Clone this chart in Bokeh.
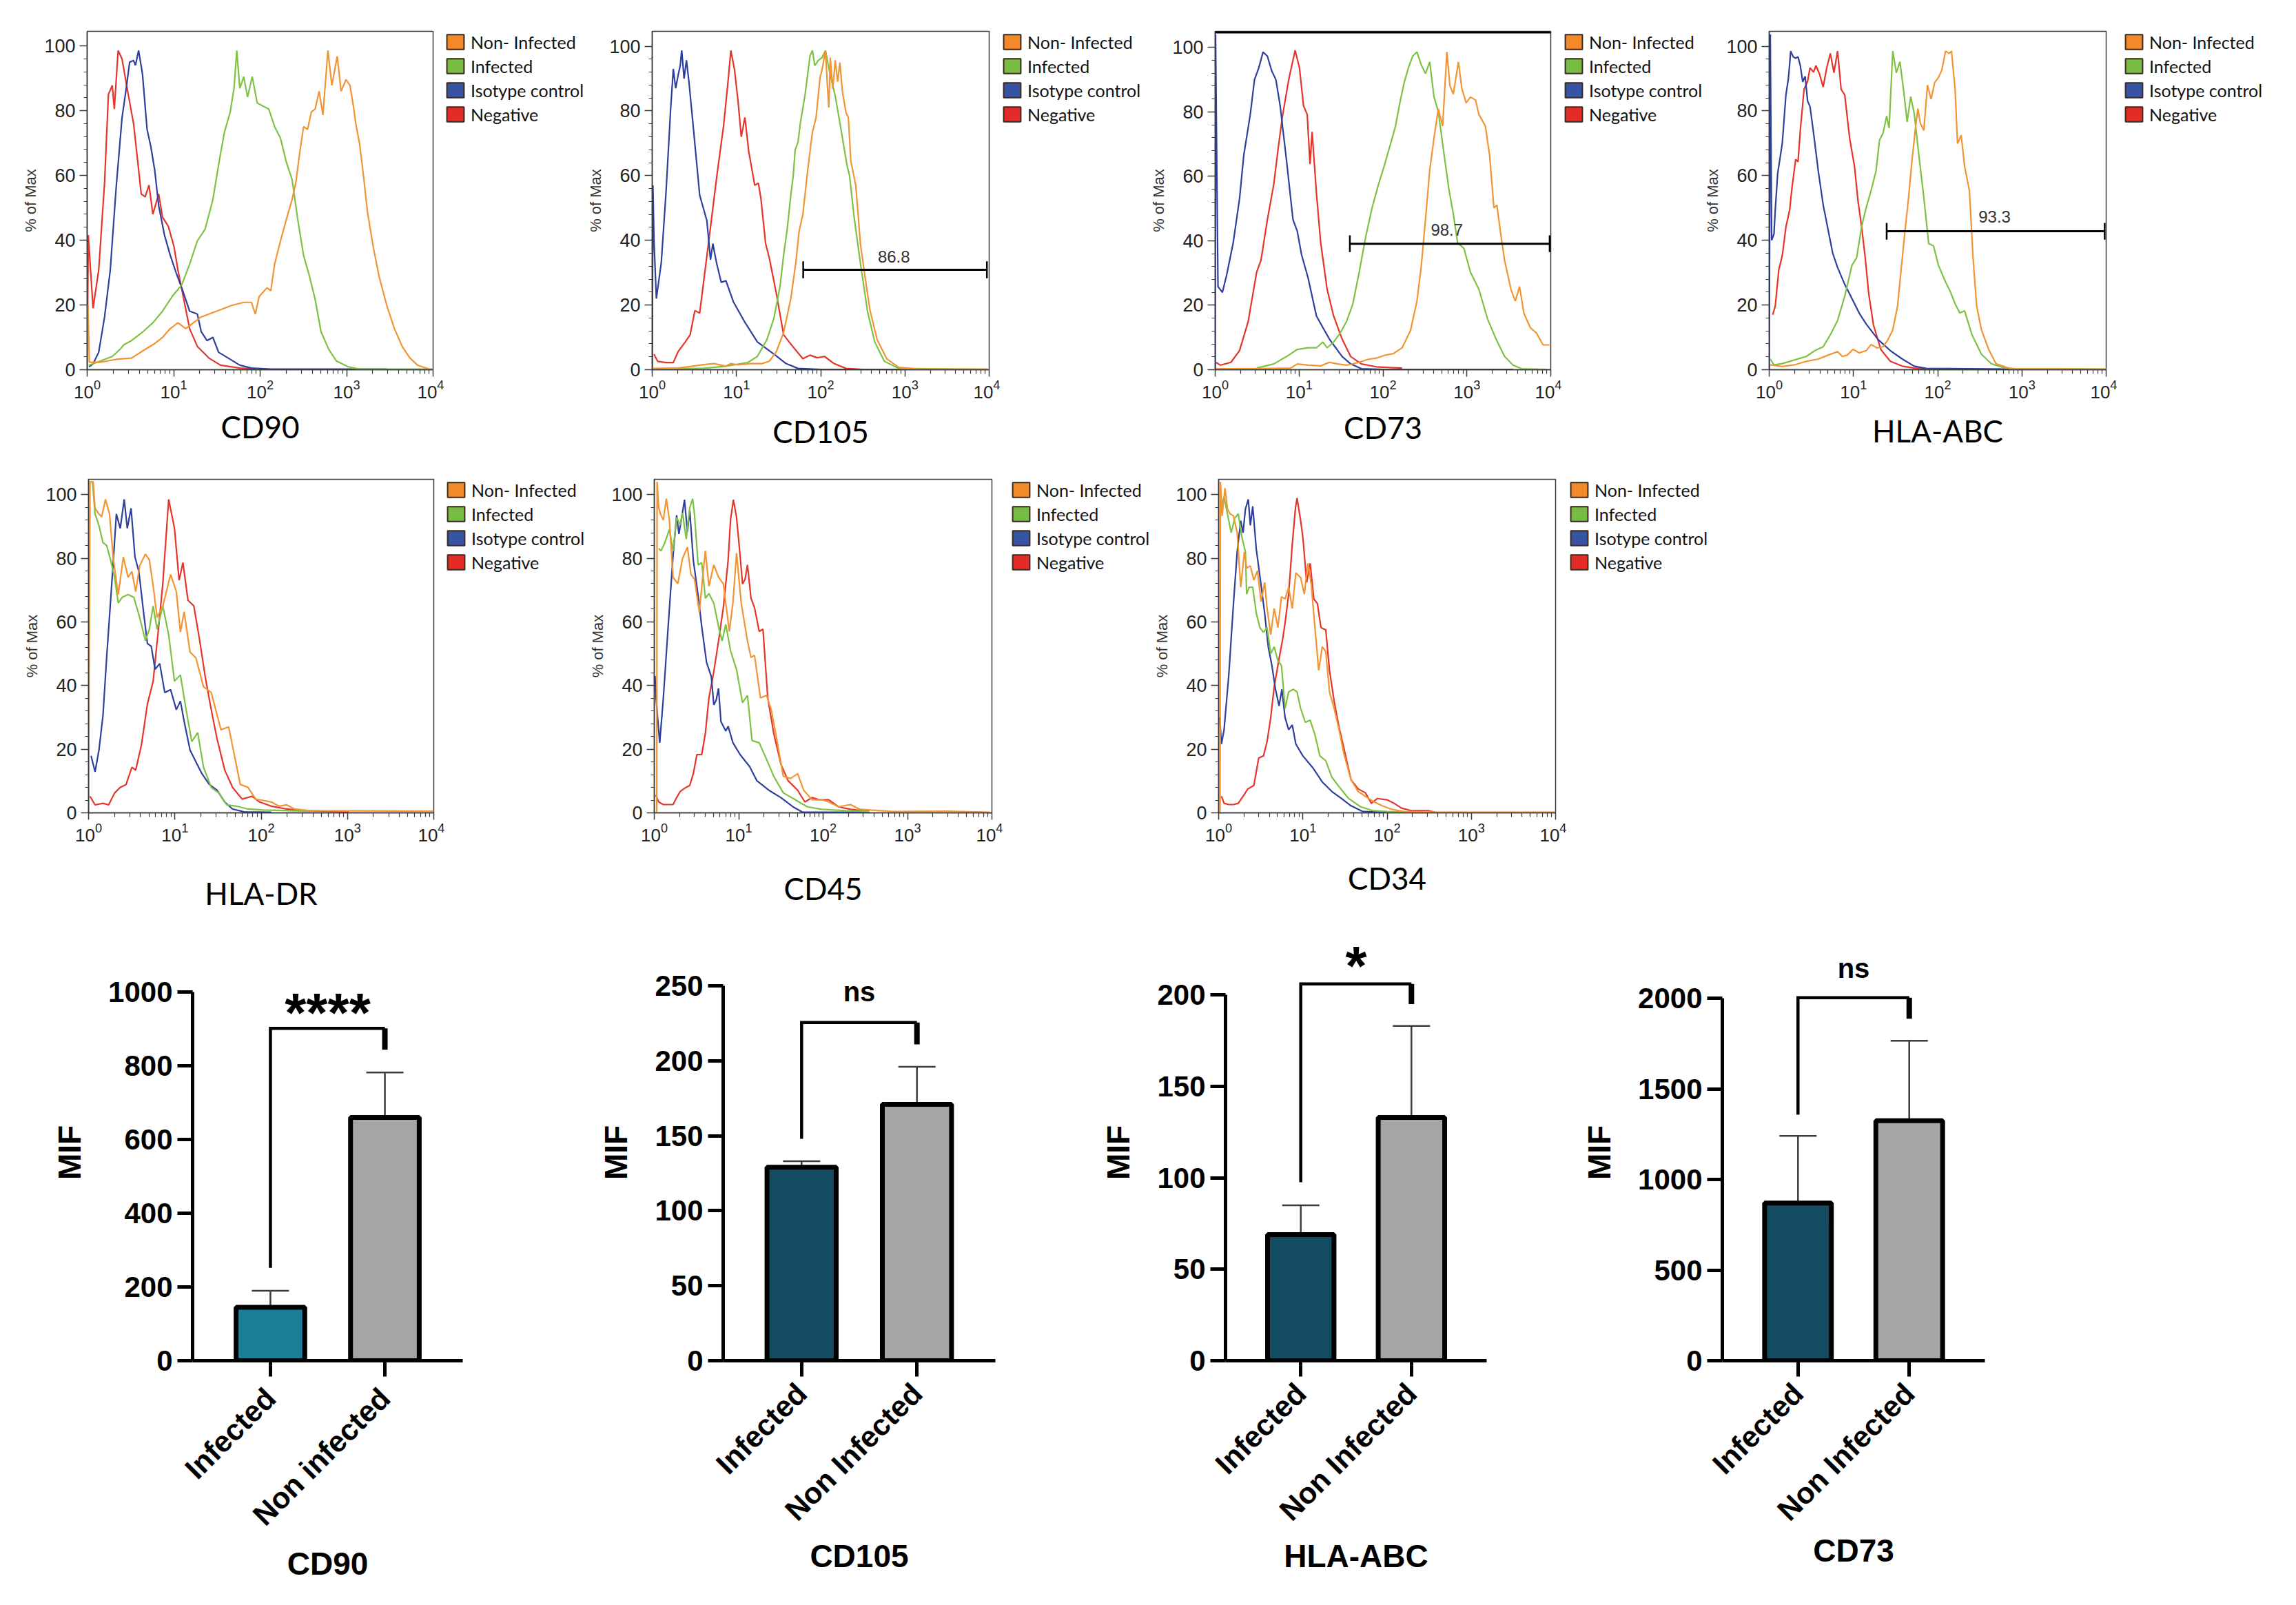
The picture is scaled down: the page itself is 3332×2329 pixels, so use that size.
import math
from bokeh.plotting import figure
from bokeh.models import (Range1d, FactorRange, FixedTicker, Legend, LegendItem, Span, Label,
                          Whisker, TeeHead, ColumnDataSource, LogTickFormatter, Spacer)
from bokeh.layouts import row, column
from bokeh.embed import file_html
from bokeh.resources import INLINE

# ---------------- legend / series ----------------
SERIES = ["Non- Infected", "Infected", "Isotype control", "Negative"]
LINE_COLORS = ["#F39433", "#7DC243", "#2F3F9E", "#E5352B"]
BOX_COLORS = ["#F4892A", "#77BD43", "#3653A4", "#E42B27"]

# ---------------- histogram data (x = fluorescence, y = % of Max) ----------------
cd90_non_x = [1.0, 1.02, 1.06, 1.43, 2.16, 3.26, 4.45, 6.05, 7.44, 9.14, 11.2, 13.8, 16.9, 20.8, 25.6, 31.4, 38.6, 47.4, 64.6, 79.3, 88, 97.5, 120, 133, 147, 172, 200, 234, 259, 287, 318, 353, 391, 433, 481, 532, 608, 675, 779, 863, 986, 1094, 1213, 1276, 1415, 1570, 1740, 2030, 2366, 2910, 3573, 4390, 5400, 6620, 9020]
cd90_non_y = [0, 20, 2.3, 2.3, 3.2, 3.6, 5.9, 8.1, 10, 12.7, 14.5, 12.7, 14.5, 16.3, 17.2, 18.1, 19, 19.9, 20.8, 20.8, 17.2, 22.6, 25.3, 24.4, 32.6, 39.8, 46.2, 52.5, 57.9, 67, 75.1, 74.2, 79.6, 80.5, 86, 78.7, 98.6, 87.8, 96.8, 86, 89.6, 87.8, 80.5, 76, 69.7, 59.7, 48.9, 38, 29, 19.9, 12.7, 7.2, 3.6, 1.4, 0.2]
cd90_inf_x = [1.05, 1.43, 1.95, 2.4, 2.66, 3.26, 4.45, 5.75, 7.44, 9.6, 12.4, 15.3, 18.8, 23.1, 28.4, 33.1, 38.6, 45.1, 49.9, 53.7, 58.2, 64.6, 71.6, 81, 92.5, 108, 126, 147, 172, 200, 234, 273, 318, 371, 433, 505, 621, 763, 1040, 1415, 10000]
cd90_inf_y = [1.4, 2.7, 4.1, 6.3, 7.7, 9, 11.8, 14.5, 18.1, 22.6, 26.2, 32.6, 39.8, 43.4, 52.5, 63.3, 73.3, 79.6, 86.9, 98.6, 86.9, 90.5, 84.2, 90.5, 82.4, 81.4, 80.5, 75.1, 71.5, 64.3, 58.8, 46.2, 35.3, 29, 21.7, 11.8, 6.3, 2.7, 0.9, 0.2, 0.2]
cd90_iso_x = [1.05, 1.17, 1.36, 1.59, 1.85, 2.16, 2.53, 2.8, 3.1, 3.44, 3.62, 3.93, 4.36, 4.93, 5.46, 6.05, 6.71, 7.83, 9.14, 10.7, 12.4, 15.3, 18.8, 20.8, 24.3, 28.4, 33.1, 42.8, 58.2, 79.3, 133, 2910]
cd90_iso_y = [0.9, 1.8, 5.4, 16.3, 30.8, 56, 77.8, 86, 95, 95.5, 94, 98.6, 91.4, 74.2, 68.8, 61.5, 50.7, 41.6, 35.3, 29.9, 25.3, 18.1, 17.2, 11.8, 9, 10, 5.4, 3.6, 1.4, 0.5, 0.2, 0.2]
cd90_neg_x = [1.0, 1.03, 1.17, 1.36, 1.59, 1.76, 1.95, 2.06, 2.28, 2.53, 2.94, 3.44, 3.81, 4.22, 4.68, 5.19, 5.75, 6.71, 7.44, 8.68, 10.1, 11.2, 13.1, 15.3, 18.8, 25.6, 34.8, 58.2, 88]
cd90_neg_y = [0, 41.6, 19, 30.8, 57.9, 85, 87.8, 80.5, 98.6, 96, 86, 76, 65.2, 54.3, 53.4, 57, 48, 54.3, 47.1, 44.3, 38, 30.8, 21.7, 12.7, 7.2, 3.6, 1.4, 0.5, 0.2]

cd105_non_x = [1.02, 2.03, 3.9, 5.43, 7.5, 8.58, 10.45, 14.5, 20.1, 24.5, 29.8, 36.3, 44.2, 50.6, 55.6, 61.4, 70, 79.8, 88, 98.5, 104, 114, 120, 125, 130, 139, 149, 159, 169, 181, 200, 213, 228, 261, 296, 336, 385, 468, 608, 845, 1426, 9550]
cd105_non_y = [0.4, 0.5, 1.5, 1.9, 1.1, 1.9, 1.5, 1.9, 1.9, 2.6, 5.6, 11.5, 22, 33, 43, 48, 61.5, 73.4, 77.9, 90.5, 92.8, 98.7, 88, 81, 96.5, 86.8, 95.7, 89, 95, 86, 79.4, 78, 64.5, 57, 39, 28.7, 18.3, 9.3, 3.4, 0.7, 0.2, 0.2]
cd105_inf_x = [1.02, 3.9, 7.5, 13.6, 17.7, 23, 27.9, 32.9, 36.3, 40.1, 44.2, 47.2, 49.8, 53.8, 57.5, 65.5, 74.7, 79.8, 85.2, 94, 104, 114, 126, 149, 175, 206, 220, 251, 296, 360, 438, 570, 845, 9550]
cd105_inf_y = [0.3, 0.4, 1.1, 2.2, 4.1, 9.3, 16, 25.7, 35.4, 43.6, 54, 60, 68, 70.4, 76.4, 85.3, 97, 98.7, 94, 95.7, 96.5, 98.7, 92.8, 84.6, 74, 63, 60, 46.6, 33, 18, 8.6, 2.6, 0.4, 0.1]
cd105_iso_x = [1.0, 1.02, 1.05, 1.12, 1.28, 1.46, 1.65, 1.78, 1.9, 2.03, 2.15, 2.24, 2.39, 2.55, 2.73, 3.1, 3.66, 4.46, 4.92, 5.25, 5.8, 6.6, 7.5, 9.2, 12.7, 17.7, 27.9, 38.8, 53.8, 100, 1000]
cd105_iso_y = [0, 57, 40, 22, 33, 55, 80, 93, 87, 91, 94, 98.7, 90, 95.7, 89, 74, 54, 46, 34, 39, 33, 27, 27.5, 21, 14.5, 8.6, 4.8, 1.9, 0.4, 0.1, 0.1]
cd105_neg_x = [1.05, 1.16, 1.46, 1.78, 2.03, 2.47, 2.82, 3.21, 3.66, 4.18, 4.92, 5.79, 7.05, 8.04, 8.58, 9.48, 10.45, 11.4, 12.6, 14.0, 16.5, 18.2, 19.5, 22.2, 24.5, 29.8, 36.3, 47.2, 61.4, 74.7, 91, 111, 144, 200, 316]
cd105_neg_y = [4.8, 2.6, 2.2, 2.2, 5.6, 8.6, 10.8, 18.3, 17.5, 29.4, 44, 59, 75.6, 90.5, 98.7, 92.8, 83, 72, 78, 67.4, 57, 57.7, 53, 39, 34.6, 23.5, 10.8, 7, 3.4, 4.5, 3.7, 4.1, 1.9, 0.4, 0.1]

cd73_non_x = [1.02, 3.12, 7.98, 9.51, 12.8, 18.1, 23, 29, 36.7, 52.1, 65.9, 83.4, 105, 133, 169, 213, 254, 286, 321, 361, 406, 457, 514, 578, 627, 689, 793, 871, 980, 1102, 1268, 1393, 1661, 1867, 2100, 2280, 2506, 2817, 3357, 3777, 4247, 4775, 5690, 6790, 8090, 9660]
cd73_non_y = [0.3, 0.3, 0.5, 1.8, 1.4, 1.2, 2.3, 1.8, 1.4, 2.3, 3.2, 3.6, 4.5, 5, 6.8, 12.2, 21.3, 32.1, 46.6, 62, 71.9, 81, 75.6, 98.6, 88.2, 85.5, 95.5, 87.3, 82.8, 84.6, 83.7, 79.2, 75.6, 66.5, 50.2, 51.1, 43, 33.9, 24.9, 21.3, 25.8, 17.6, 13.1, 11.3, 7.7, 7.7]
cd73_inf_x = [3.12, 4.99, 7.1, 9.51, 12.8, 16.1, 19.2, 21.6, 25.8, 30.8, 36.7, 43.7, 52.1, 62.2, 74.1, 88.4, 105, 126, 141, 159, 179, 201, 226, 254, 286, 321, 361, 406, 457, 514, 613, 689, 775, 924, 1102, 1393, 1762, 2228, 2817, 3562, 4504, 9100]
cd73_inf_y = [0.5, 1.8, 4.1, 6.3, 6.8, 6.8, 8.6, 6.8, 8.6, 11.3, 14.9, 20.4, 30.3, 41.2, 50.2, 57.5, 63.8, 71, 75.6, 82.8, 89.1, 93.7, 97.3, 98.6, 94.6, 91.9, 95.5, 84.6, 80.1, 70.1, 55.7, 48.4, 39.4, 37.6, 30.3, 24.9, 15.8, 9.5, 4.1, 1.4, 0.3, 0.1]
cd73_iso_x = [1.0, 1.01, 1.08, 1.22, 1.37, 1.64, 1.95, 2.19, 2.62, 2.94, 3.31, 3.72, 4.19, 4.71, 5.29, 5.95, 7.1, 8.46, 9.51, 10.7, 12.8, 16.1, 19.2, 23, 25.8, 32.6, 41.2, 55.3, 105, 3550]
cd73_iso_y = [0, 104, 25.8, 24, 29.4, 39.4, 53, 66.5, 79.2, 90, 93.7, 98.6, 97.3, 92.8, 90, 81.9, 64.7, 46.6, 43, 35.7, 28.5, 16.7, 13.1, 9.5, 7.7, 4.1, 1.8, 0.3, 0.1, 0.1]
cd73_neg_x = [1.02, 1.15, 1.54, 1.95, 2.47, 3.12, 3.51, 4.19, 4.99, 5.61, 6.31, 7.52, 8.97, 10.1, 11.3, 12.5, 13.5, 14.3, 16.1, 18.1, 21.6, 25.8, 32.6, 41.2, 55.3, 83.4, 169]
cd73_neg_y = [2.3, 1.4, 2.3, 5.9, 14.9, 30.3, 33.9, 46.6, 57.5, 68.3, 78.3, 90, 99.1, 93.7, 81.9, 79.2, 63.8, 73.8, 54.8, 39.4, 24.9, 16.7, 9.5, 4.1, 1.8, 0.9, 0.5]

hlaabc_non_x = [1.03, 1.43, 1.99, 2.76, 3.83, 4.98, 6.48, 7.38, 8.42, 9.9, 11.7, 14.2, 16.2, 19.1, 22.5, 25.7, 29.3, 33.4, 36.8, 40.6, 44.8, 49.4, 54.5, 58.2, 62.2, 68.5, 75.7, 83.5, 92.1, 102, 112, 124, 137, 146, 161, 172, 190, 209, 238, 263, 290, 331, 403, 490, 726, 10000]
hlaabc_non_y = [1.5, 1, 1.5, 2.6, 3.3, 4.5, 5.6, 4.1, 4.5, 6.3, 5.2, 5.9, 7.8, 6.7, 7.1, 9.3, 12.3, 19.7, 30.9, 42, 52.4, 64.3, 74.7, 80.7, 76.2, 74, 88, 83.6, 88.8, 90.3, 92.6, 98.5, 97.8, 98.5, 86.6, 69.9, 72.5, 62.8, 55.4, 34.6, 19.7, 12.3, 6.3, 1.9, 0.3, 0.2]
hlaabc_inf_x = [1.03, 1.14, 1.43, 1.99, 2.76, 3.48, 4.37, 5.32, 6.48, 7.88, 9.6, 10.9, 12.5, 14.2, 16.2, 18.5, 20.4, 22.5, 24.8, 26.5, 29.3, 32.3, 35.6, 39.3, 43.4, 47.8, 52.7, 60.1, 68.5, 78.2, 89.2, 102, 124, 141, 161, 183, 209, 255, 331, 430, 597, 828, 10000]
hlaabc_inf_y = [3.3, 1.5, 1.9, 3, 4.1, 5.9, 7.1, 10.8, 15.2, 22.7, 32.3, 34.6, 44.2, 50.2, 55.4, 61.3, 71, 73.2, 78.4, 74.7, 98.5, 91.8, 95.2, 86.6, 76.6, 84.4, 79.2, 65.8, 53.2, 39, 38.3, 32.3, 27.1, 24.2, 20.4, 17.5, 18.2, 10.8, 4.8, 1.9, 0.7, 0.3, 0.2]
hlaabc_iso_x = [1.0, 1.03, 1.07, 1.14, 1.18, 1.26, 1.43, 1.58, 1.69, 1.8, 1.93, 2.06, 2.2, 2.34, 2.5, 2.67, 2.86, 3.05, 3.36, 3.83, 4.37, 4.98, 5.68, 6.48, 7.88, 9.6, 11.7, 14.2, 19.7, 27.4, 38, 52.7, 73.2, 726]
hlaabc_iso_y = [0, 103.7, 40, 42, 49.4, 60.6, 70, 85, 90, 98.5, 96.7, 96.3, 96.7, 94, 89, 90.7, 83, 81.4, 73.2, 61.3, 51, 43.5, 36, 31.6, 26.4, 22, 17.5, 14.1, 9.3, 5.9, 3.3, 1.1, 0.4, 0.2]
hlaabc_neg_x = [1.1, 1.18, 1.3, 1.43, 1.58, 1.75, 1.86, 2.06, 2.2, 2.34, 2.59, 2.86, 3.05, 3.36, 3.59, 3.96, 4.37, 4.82, 5.32, 5.87, 6.48, 7.15, 7.88, 9.0, 10.3, 11.3, 12.5, 13.8, 15.2, 17.3, 21.1, 27.4, 38, 52.7, 73.2]
hlaabc_neg_y = [17, 19.7, 30.9, 35.3, 44.2, 49.4, 56, 65, 64.3, 74, 86.6, 89.2, 93.3, 92, 94, 91.4, 87.4, 93.3, 97.8, 91.8, 98.5, 86.6, 85, 71.7, 62.8, 52.4, 44.2, 34.6, 23.4, 13.8, 6.3, 2.6, 1.1, 0.5, 0.2]

hladr_non_x = [1.0, 1.04, 1.13, 1.19, 1.32, 1.42, 1.57, 1.75, 1.94, 2.21, 2.53, 2.87, 3.18, 3.52, 3.91, 4.56, 5.06, 5.61, 6.22, 7.26, 8.93, 10.4, 11.6, 12.8, 15, 17.5, 21.5, 26.4, 34.2, 42, 49.1, 57.3, 70.4, 86.5, 106, 131, 161, 198, 243, 367, 10000]
hladr_non_y = [0, 104, 104, 95.7, 93.9, 93, 98.5, 93.9, 79.5, 68.6, 80.4, 74, 75.8, 69.5, 77.6, 81.3, 79.5, 71.3, 61.4, 65, 74.9, 69.5, 56.8, 63.2, 50.5, 48.7, 39.6, 37.8, 26.1, 27, 17.9, 8.9, 8, 4.3, 3.9, 3.4, 2.1, 2.5, 1.2, 0.7, 0.5]
hladr_inf_x = [1.11, 1.19, 1.32, 1.47, 1.62, 1.8, 2.0, 2.21, 2.45, 2.87, 3.35, 3.91, 4.56, 5.06, 5.61, 6.22, 7.26, 8.48, 9.9, 11.6, 13.5, 15.7, 18.4, 21.5, 26.4, 32.4, 39.9, 51.6, 70.4, 106, 367]
hladr_inf_y = [104, 93.9, 90.3, 84.9, 84, 79.5, 74, 65.9, 67.7, 68.6, 67.7, 61.4, 54.1, 57.7, 65, 57.7, 65, 55.9, 41.4, 43.3, 32.4, 22.4, 25.2, 14.3, 8, 6.2, 2.5, 2.1, 1.2, 0.9, 0.5]
hladr_iso_x = [1.07, 1.19, 1.32, 1.47, 1.62, 1.9, 2.1, 2.33, 2.59, 2.81, 3.11, 3.45, 3.83, 4.33, 4.81, 5.33, 5.9, 6.68, 7.64, 8.93, 10.4, 11.6, 12.8, 15, 17.5, 20.4, 25.1, 30.8, 37.9, 46.6, 63.5, 131]
hladr_iso_y = [17.9, 12.9, 19.7, 30.6, 48.7, 75.8, 93.9, 89.4, 98.5, 89.4, 95.7, 80.4, 75.8, 63.2, 53.2, 52.3, 45.1, 46.9, 37.8, 38.7, 32.4, 35.1, 28.8, 19.7, 16.1, 12.5, 8.9, 7.1, 3.4, 1.2, 0.3, 0.2]
hladr_neg_x = [1.04, 1.19, 1.47, 1.71, 2.0, 2.33, 2.72, 3.18, 3.52, 4.11, 4.81, 5.61, 6.55, 7.26, 8.48, 9.9, 11.2, 12.4, 14.2, 16.6, 19.4, 22.6, 26.4, 30.8, 37.9, 46.6, 60.3, 78, 95.9, 131, 198, 299, 1030]
hladr_neg_y = [5.2, 2.5, 3, 2.5, 6.2, 8, 8.9, 14.3, 13.4, 21.5, 34.2, 41.4, 59.5, 72.2, 98.5, 89.4, 73.1, 78.6, 66.8, 65, 54.1, 42.4, 32.4, 23.3, 13.4, 8, 4.3, 5.2, 3.4, 2.1, 1.2, 0.7, 0.3]

cd45_non_x = [1.07, 1.08, 1.13, 1.2, 1.28, 1.39, 1.51, 1.67, 1.9, 2.16, 2.47, 2.72, 3.0, 3.42, 3.77, 4.03, 4.44, 5.07, 5.77, 6.58, 7.75, 8.55, 9.43, 10.7, 12.7, 14, 15.4, 18.1, 21.4, 24.3, 27.8, 33.7, 41.1, 50, 58.9, 74, 96, 117, 152, 211, 274, 684, 2885, 9400]
cd45_non_y = [0, 104, 95.8, 93.5, 92, 98.7, 92, 74, 72, 79.9, 83.5, 74.9, 73.4, 63, 74.9, 82.3, 71.2, 77.9, 74.1, 71.9, 57, 66, 81.6, 66, 54, 48.8, 49.5, 36.1, 36.9, 32.4, 24.2, 11.5, 10.8, 12.3, 7.1, 4.1, 4.1, 3.4, 1.9, 2.6, 1.1, 0.4, 0.5, 0.2]
cd45_inf_x = [1.13, 1.2, 1.32, 1.51, 1.67, 1.84, 2.03, 2.16, 2.39, 2.63, 2.85, 3.0, 3.31, 3.65, 4.03, 4.44, 5.07, 5.77, 6.37, 7.03, 8.0, 9.43, 11.1, 12.7, 14.4, 17.5, 21.4, 26, 33.7, 46.8, 65, 96, 185, 356]
cd45_inf_y = [83.1, 82.3, 84.6, 89, 82.3, 92.8, 90.5, 94.3, 86, 95.8, 98.7, 93.5, 77.9, 78.6, 67.4, 68.9, 65.9, 58.5, 54, 59.2, 51, 45, 34.6, 36.9, 22.7, 22, 16.8, 11.5, 6.3, 4.1, 1.9, 1.1, 0.7, 0.4]
cd45_iso_x = [1.02, 1.05, 1.16, 1.28, 1.46, 1.67, 1.84, 1.96, 2.09, 2.28, 2.47, 2.63, 2.9, 3.31, 3.65, 4.16, 4.74, 5.07, 5.41, 5.77, 6.16, 7.03, 7.5, 8.55, 10.4, 13.5, 16.4, 22.8, 31.6, 43.9, 57, 356]
cd45_iso_y = [43, 36, 22, 36, 58.5, 80.8, 93.5, 87.6, 92, 98.4, 88.3, 95, 79.4, 68.2, 58.5, 47.3, 42.8, 33.9, 35.4, 39.1, 28.7, 25.7, 27.2, 22, 18.3, 14.5, 10.1, 7.1, 4.8, 1.9, 0.2, 0.2]
cd45_neg_x = [1.04, 1.13, 1.28, 1.46, 1.67, 1.84, 2.03, 2.31, 2.63, 2.9, 3.2, 3.65, 4.03, 4.44, 5.07, 5.77, 6.58, 7.5, 8.0, 8.66, 9.43, 10.4, 11.1, 11.9, 12.7, 14, 15.4, 17.5, 19.4, 22.1, 26, 31.6, 38.5, 50, 60.8, 74, 90, 117, 152, 211, 356]
cd45_neg_y = [5.6, 3.4, 2.6, 2.6, 2.6, 4.8, 6.7, 7.8, 8.6, 12.3, 18.3, 18.3, 25, 36.1, 44.3, 54, 64.5, 79.4, 92, 98.4, 92.8, 80.8, 71.9, 73.4, 77.9, 67.4, 64.5, 57, 57.7, 36.1, 25, 15.3, 10.1, 7.1, 3.4, 4.8, 4.1, 4.1, 1.9, 1.1, 0.4]

cd34_non_x = [1.04, 1.05, 1.1, 1.19, 1.27, 1.36, 1.5, 1.66, 1.83, 2.02, 2.15, 2.38, 2.62, 2.89, 3.19, 3.52, 3.76, 4.15, 4.57, 5.05, 5.57, 6.15, 6.78, 7.48, 8.26, 9.41, 10.4, 11.5, 12.6, 13.9, 15.4, 17, 18.7, 20.7, 23.5, 26.9, 30.6, 37.3, 45.4, 55.2, 67.3, 87.4, 114, 158, 370, 9800]
cd34_non_y = [0, 104, 93.3, 102, 95.5, 94, 93.3, 88, 70.9, 82, 76.9, 77.6, 73.1, 76.1, 66.4, 72.4, 64.2, 56, 64.2, 58.2, 67.9, 67.2, 70.9, 64.2, 75.4, 73.9, 68.7, 78.4, 71.6, 58.2, 44.8, 52.2, 50.7, 38, 32.8, 26.1, 18.7, 10.4, 6.7, 5.2, 3.7, 2.2, 1.1, 0.4, 0.2, 0.2]
cd34_inf_x = [1.05, 1.16, 1.27, 1.41, 1.55, 1.71, 1.89, 2.08, 2.15, 2.3, 2.54, 2.8, 3.09, 3.41, 3.76, 4.15, 4.57, 5.05, 5.57, 6.15, 6.78, 7.73, 8.53, 9.41, 10.7, 12.2, 13.9, 15.9, 18.7, 22.1, 26.9, 34.9, 48.5, 67.3, 99.7, 168]
cd34_inf_y = [95.5, 99.3, 94, 88, 92.5, 94, 86.6, 82, 68.7, 70.9, 70.9, 62.7, 58.2, 56.7, 58.2, 50, 52.2, 47.8, 46.3, 32.8, 38, 38.8, 38, 32.8, 28.4, 29.1, 24.6, 17.9, 16.4, 11.2, 8.2, 4.5, 1.9, 0.7, 0.4, 0.2]
cd34_iso_x = [1.03, 1.08, 1.16, 1.32, 1.5, 1.66, 1.83, 1.95, 2.08, 2.25, 2.38, 2.54, 2.8, 3.19, 3.52, 3.88, 4.29, 4.73, 5.22, 5.64, 6.15, 6.78, 7.48, 8.26, 10, 13.1, 17, 22.1, 28.7, 37.3, 51.7, 99.7]
cd34_iso_y = [30, 21.6, 26.1, 43.3, 65.7, 82, 91.8, 88, 95.5, 98.5, 90.3, 96.3, 82.8, 71.6, 62.7, 52.2, 46.3, 38.8, 33.6, 38.8, 29.9, 26.1, 27.6, 21.6, 17.9, 14.2, 9.7, 6.7, 4.5, 2.2, 0.4, 0.2]
cd34_neg_x = [1.08, 1.16, 1.32, 1.5, 1.71, 1.95, 2.22, 2.62, 2.99, 3.41, 3.76, 4.15, 4.57, 5.22, 5.75, 6.15, 6.78, 7.48, 8.15, 8.53, 9.41, 10, 11.1, 12.2, 13.5, 14.9, 16.4, 18.7, 20.7, 23.5, 26.9, 31.7, 37.3, 45.4, 55.2, 65.1, 76.7, 99.7, 121, 148, 192, 304, 370]
cd34_neg_y = [5.2, 3, 2.6, 2.6, 3, 5.2, 7.5, 8.6, 17.2, 17.9, 22.4, 29.9, 39.6, 48.5, 54.5, 59.7, 68.7, 84.3, 95.5, 98.9, 91.8, 86.6, 72.4, 78.4, 67.2, 65.7, 58.2, 57.5, 44.8, 35.1, 26.9, 18.7, 10.4, 7.5, 6.3, 3, 4.5, 4.1, 3, 1.5, 0.7, 0.7, 0.2]

# gates: (low, high, y, label)
cd105_gate = (62, 9400, 30.9, "86.8")
cd73_gate = (40.3, 9700, 39.1, "98.7")
hlaabc_gate = (24.8, 9600, 42.8, "93.3")

# ---------------- bar chart data (MIF) ----------------
bar_groups = ["Infected", "Non Infected"]
cd90_groups = ["Infected", "Non infected"]
cd90_mif = [145, 660]
cd90_sd = [45, 122]
cd105_mif = [129, 171]
cd105_sd = [4, 25]
hlaabc_mif = [69, 133]
hlaabc_sd = [16, 50]
cd73_mif = [870, 1325]
cd73_sd = [371, 441]
sig_labels = ["****", "ns", "*", "ns"]

# ---------------- styling ----------------
NARROW = "Liberation Sans Narrow, Liberation Sans, sans-serif"
DEC = [1, 10, 100, 1000, 10000]
MINOR = [m * 10 ** d for d in range(4) for m in range(2, 10)]
LEG_ROW_H, LEG_GLYPH_H, LEG_GLYPH_W, LEG_SPACING = 31, 27, 31, 4
NAN = float("nan")
HIST_BR = 16


def hist_fig(marker, curves, h, bl, tb, fw, fh, ymax, title_sd,
             gate=None, gate_text=None, thick_top=False):
    w = bl + fw + HIST_BR
    p = figure(width=w, height=h, x_axis_type="log", x_range=Range1d(1, 1e4),
               y_range=Range1d(0, ymax), min_border_left=bl, min_border_right=HIST_BR,
               min_border_top=tb, min_border_bottom=h - tb - fh,
               output_backend="svg", toolbar_location=None)
    p.grid.visible = False
    p.outline_line_color = "#3a3a3a"
    p.outline_line_width = 1.5
    for idx in [3, 2, 1, 0]:
        xs, ys = curves[idx]
        p.line(xs, ys, line_color=LINE_COLORS[idx], line_width=2.2)
    if gate is not None:
        lo, hi, gy, txt = gate
        tx, ty = gate_text
        p.segment(x0=[lo], y0=[gy], x1=[hi], y1=[gy], line_color="black", line_width=3)
        p.segment(x0=[lo, hi], y0=[gy - 2.6, gy - 2.6], x1=[lo, hi], y1=[gy + 2.6, gy + 2.6],
                  line_color="black", line_width=2.5)
        p.add_layout(Label(x=tx, y=ty, text=txt, text_align="center", text_baseline="middle",
                           text_font="Liberation Sans", text_font_size="24px", text_color="#333"))
    if thick_top:
        p.add_layout(Span(location=ymax, dimension="width", line_color="black", line_width=6))

    xa, ya = p.xaxis[0], p.yaxis[0]
    xa.ticker = FixedTicker(ticks=DEC, minor_ticks=MINOR)
    xa.formatter = LogTickFormatter()
    ya.ticker = FixedTicker(ticks=[0, 20, 40, 60, 80, 100], minor_ticks=list(range(0, 101, 4)))
    for ax in (xa, ya):
        ax.axis_line_color = "#3a3a3a"
        ax.axis_line_width = 1.5
        ax.major_tick_line_color = "#3a3a3a"
        ax.major_tick_line_width = 1.5
        ax.minor_tick_line_color = "#3a3a3a"
        ax.minor_tick_line_width = 1.2
        ax.major_tick_in = 0
        ax.minor_tick_in = 0
        ax.major_label_text_font = NARROW
        ax.major_label_text_color = "#222"
    xa.major_tick_out = 10
    xa.minor_tick_out = 6
    xa.major_label_text_font_size = "26px"
    xa.major_label_standoff = 4
    ya.major_tick_out = 11
    ya.minor_tick_out = 5
    ya.major_label_text_font_size = "27px"
    ya.major_label_standoff = 6
    ya.axis_label = "% of Max"
    ya.axis_label_text_font = "Liberation Sans"
    ya.axis_label_text_font_size = "22px"
    ya.axis_label_text_font_style = "normal"
    ya.axis_label_text_color = "#333"
    ya.axis_label_standoff = 4
    xa.axis_label = marker
    xa.axis_label_text_font = "Lato"
    xa.axis_label_text_font_size = "44px"
    xa.axis_label_text_font_style = "normal"
    xa.axis_label_text_color = "black"
    xa.axis_label_standoff = title_sd
    return p


def legend_fig(w, h, dx, top):
    # the frame starts where the legend's top-left corner should sit
    p = figure(width=w, height=h, x_range=Range1d(0, 1), y_range=Range1d(0, 1),
               min_border_left=dx, min_border_top=top, min_border_right=0, min_border_bottom=0,
               x_axis_location=None, y_axis_location=None, output_backend="svg",
               toolbar_location=None)
    p.grid.visible = False
    p.outline_line_color = None
    items = []
    for i, name in enumerate(SERIES):
        r = p.quad(left=[NAN], right=[NAN], top=[NAN], bottom=[NAN], fill_color=BOX_COLORS[i],
                   line_color="#3b2a1c", line_width=2)
        items.append(LegendItem(label=name, renderers=[r]))
    leg = Legend(items=items, location="top_left",
                 glyph_width=LEG_GLYPH_W, glyph_height=LEG_GLYPH_H, label_height=LEG_ROW_H,
                 spacing=LEG_SPACING, padding=0, margin=0, label_standoff=7,
                 label_text_font="Lato", label_text_font_size="25px", label_text_color="#111",
                 border_line_alpha=0, background_fill_alpha=0)
    p.add_layout(leg)
    return p


def bar_fig(marker, cats, vals, errs, fills, y_end, top_tick, step, bracket, sig, sig_y, sig_size,
            w, h, bl, br, fh, label_sd, title_sd):
    p = figure(width=w, height=h,
               x_range=FactorRange(factors=cats, range_padding=0.18, range_padding_units="absolute"),
               y_range=Range1d(0, y_end), min_border_left=bl, min_border_right=br,
               min_border_top=20, min_border_bottom=h - 20 - fh,
               output_backend="svg", toolbar_location=None)
    p.grid.visible = False
    p.outline_line_color = None
    p.vbar(x=cats, top=vals, width=0.6, fill_color=fills, line_color="black", line_width=7)
    src = ColumnDataSource(dict(base=cats, lower=vals, upper=[v + e for v, e in zip(vals, errs)]))
    p.add_layout(Whisker(base="base", lower="lower", upper="upper", source=src,
                         line_color="#3c3c3c", line_width=2.5,
                         upper_head=TeeHead(size=54, line_color="#3c3c3c", line_width=2.5),
                         lower_head=None))
    b_top, b_left, b_right = bracket
    p.line(x=[cats[0], cats[0], cats[1]], y=[b_left, b_top, b_top], line_color="black",
           line_width=4.5, line_join="miter")
    p.segment(x0=[cats[1]], y0=[b_top], x1=[cats[1]], y1=[b_right], line_color="black", line_width=8)
    p.add_layout(Label(x=1.0, y=sig_y, text=sig, text_align="center", text_baseline="alphabetic",
                       text_font="Liberation Sans", text_font_style="bold", text_font_size=sig_size,
                       text_color="black"))
    xa, ya = p.xaxis[0], p.yaxis[0]
    ya.bounds = (0, top_tick)
    ya.ticker = FixedTicker(ticks=list(range(0, top_tick + 1, step)))
    ya.minor_tick_line_color = None
    for ax in (xa, ya):
        ax.axis_line_width = 5
        ax.axis_line_color = "black"
        ax.major_tick_line_width = 5
        ax.major_tick_line_color = "black"
        ax.major_tick_in = 0
        ax.major_label_text_font = "Liberation Sans"
        ax.major_label_text_font_style = "bold"
        ax.major_label_text_color = "black"
    ya.major_tick_out = 22
    ya.major_label_text_font_size = "42px"
    ya.major_label_standoff = 7
    ya.axis_label = "MIF"
    ya.axis_label_text_font = NARROW
    ya.axis_label_text_font_style = "bold"
    ya.axis_label_text_font_size = "46px"
    ya.axis_label_text_color = "black"
    ya.axis_label_standoff = 27
    xa.major_tick_out = 23
    xa.major_label_text_font_size = "43px"
    xa.major_label_orientation = math.pi / 4
    xa.major_label_standoff = label_sd
    xa.axis_label = marker
    xa.axis_label_text_font = "Liberation Sans"
    xa.axis_label_text_font_style = "bold"
    xa.axis_label_text_font_size = "46px"
    xa.axis_label_text_color = "black"
    xa.axis_label_standoff = title_sd
    return p


R1, R2, R3 = 652, 690, 960

fA = hist_fig("CD90", [(cd90_non_x, cd90_non_y), (cd90_inf_x, cd90_inf_y), (cd90_iso_x, cd90_iso_y), (cd90_neg_x, cd90_neg_y)],
              R1, 118, 29, 502, 501, 104.5, 12)
lA = legend_fig(205, R1, 1, 37)
fB = hist_fig("CD105", [(cd105_non_x, cd105_non_y), (cd105_inf_x, cd105_inf_y), (cd105_iso_x, cd105_iso_y), (cd105_neg_x, cd105_neg_y)],
              R1, 84, 27, 502, 501, 104.6, 19, gate=cd105_gate, gate_text=(740, 35))
lB = legend_fig(215, R1, 2, 33)
fC = hist_fig("CD73", [(cd73_non_x, cd73_non_y), (cd73_inf_x, cd73_inf_y), (cd73_iso_x, cd73_iso_y), (cd73_neg_x, cd73_neg_y)],
              R1, 84, 25, 500, 503, 105, 13, gate=cd73_gate, gate_text=(578, 43.5), thick_top=True)
lC = legend_fig(204, R1, 2, 37)
fD = hist_fig("HLA-ABC", [(hlaabc_non_x, hlaabc_non_y), (hlaabc_inf_x, hlaabc_inf_y), (hlaabc_iso_x, hlaabc_iso_y), (hlaabc_neg_x, hlaabc_neg_y)],
              R1, 84, 33, 502, 502, 104.6, 18, gate=hlaabc_gate, gate_text=(474, 47.3))
lD = legend_fig(248, R1, 9, 37)

fE = hist_fig("HLA-DR", [(hladr_non_x, hladr_non_y), (hladr_inf_x, hladr_inf_y), (hladr_iso_x, hladr_iso_y), (hladr_neg_x, hladr_neg_y)],
              R2, 120, 35, 501, 502, 104.8, 46)
lE = legend_fig(207, R2, 1, 33)
fF = hist_fig("CD45", [(cd45_non_x, cd45_non_y), (cd45_inf_x, cd45_inf_y), (cd45_iso_x, cd45_iso_y), (cd45_neg_x, cd45_neg_y)],
              R2, 84, 28, 503, 502, 104.8, 39)
lF = legend_fig(216, R2, 11, 29)
fG = hist_fig("CD34", [(cd34_non_x, cd34_non_y), (cd34_inf_x, cd34_inf_y), (cd34_iso_x, cd34_iso_y), (cd34_neg_x, cd34_neg_y)],
              R2, 84, 17, 502, 502, 104.8, 24)
lG = legend_fig(257, R2, 3, 16)

TEAL_LIGHT, TEAL_DARK, GREY = "#1B7E98", "#134B61", "#A5A5A5"
fH = bar_fig("CD90", cd90_groups, cd90_mif, cd90_sd, [TEAL_LIGHT, GREY], 1129.6, 1000, 200,
             (902, 252, 844), sig_labels[0], 944, "80px", 842, R3, 271, 179, 610, 24, 0)
fI = bar_fig("CD105", bar_groups, cd105_mif, cd105_sd, [TEAL_DARK, GREY], 277.6, 250, 50,
             (225.6, 148, 211), sig_labels[1], 246, "40px", 725, R3, 199, 131, 604, 17, -4)
fJ = bar_fig("HLA-ABC", bar_groups, hlaabc_mif, hlaabc_sd, [TEAL_DARK, GREY], 227.6, 200, 50,
             (206, 97.6, 195), sig_labels[2], 216, "80px", 705, R3, 203, 123, 611, 17, -4)
fK = bar_fig("CD73", bar_groups, cd73_mif, cd73_sd, [TEAL_DARK, GREY], 2298, 2000, 500,
             (2004, 1358, 1888), sig_labels[3], 2166, "40px", 720, R3, 219, 120, 609, 17, -12)

layout = column(Spacer(height=8),
                row(Spacer(width=8), fA, lA, fB, lB, fC, lC, fD, lD),
                row(Spacer(width=8), fE, lE, fF, lF, fG, lG),
                row(Spacer(width=8), fH, fI, fJ, fK))
open("out.html", "w").write(file_html(layout, INLINE, title="Flow cytometry"))
